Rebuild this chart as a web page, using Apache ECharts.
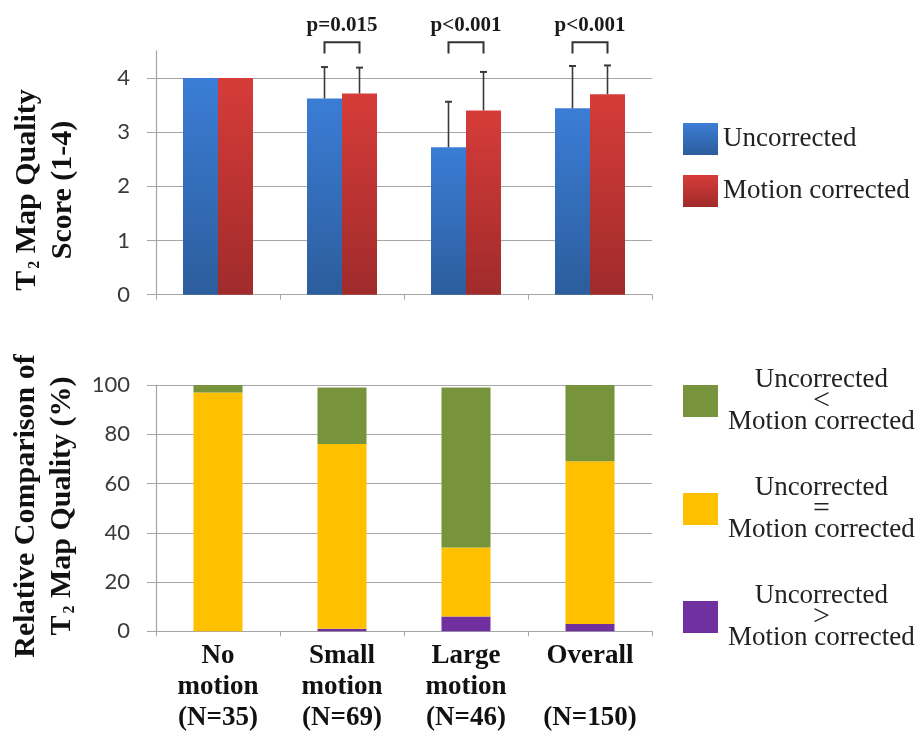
<!DOCTYPE html>
<html>
<head>
<meta charset="utf-8">
<script src="https://cdn.jsdelivr.net/npm/echarts@6/dist/echarts.min.js"></script>
<style>
  html, body { margin: 0; padding: 0; background: #ffffff; }
  #chart { width: 922px; height: 742px; }
</style>
</head>
<body>
<div id="chart"></div>
<script>
// Motion groups and their sample sizes
const groupNames = ['No\nmotion', 'Small\nmotion', 'Large\nmotion', 'Overall\n'];
const sampleSizes = [35, 69, 46, 150];

// Mean T2 map quality score (1-4) and standard deviation
const uncorrectedScore = [4.0, 3.62, 2.72, 3.44];
const uncorrectedSD = [0, 0.58, 0.84, 0.78];
const correctedScore = [4.0, 3.71, 3.40, 3.70];
const correctedSD = [0, 0.48, 0.71, 0.53];

// Paired-test p values drawn above each group
const pLabels = ['', 'p=0.015', 'p<0.001', 'p<0.001'];

// Relative comparison of map quality (% of cases)
const pctWorse = [0, 1, 6, 3];       // Uncorrected > Motion corrected
const pctEqual = [97, 75, 28, 66];   // Uncorrected = Motion corrected
const pctBetter = [3, 23, 65, 31];   // Uncorrected < Motion corrected

// Score axis ticks
const scoreTicks = [0, 1, 2, 3, 4];

const categories = groupNames.map((g, i) => g + '\n(N=' + sampleSizes[i] + ')');

const SERIF = '"Liberation Serif", "Times New Roman", serif';
const SANS = 'Lato, "Open Sans", sans-serif';
const GRID_COLOR = '#a6a6a6';
const BAR_W = 35;

const blueFill = new echarts.graphic.LinearGradient(0, 0, 0, 1, [
  { offset: 0, color: '#3b7dd6' }, { offset: 1, color: '#2c5d9c' }
]);
const redFill = new echarts.graphic.LinearGradient(0, 0, 0, 1, [
  { offset: 0, color: '#d63c39' }, { offset: 1, color: '#a02b2b' }
]);

const chart = echarts.init(document.getElementById('chart'), null, { renderer: 'canvas' });

// Error bar (upper half only) at the centre of one bar of a pair
function errorBarRenderer(offset) {
  return function (params, api) {
    const i = api.value(0), v = api.value(1), sd = api.value(2);
    if (!sd) return null;
    const base = api.coord([i, v]);
    const top = api.coord([i, v + sd]);
    const x = base[0] + offset;
    const style = { stroke: '#3a3a3a', lineWidth: 1.6 };
    return {
      type: 'group',
      children: [
        { type: 'line', shape: { x1: x, y1: base[1], x2: x, y2: top[1] }, style },
        { type: 'line', shape: { x1: x - 3.5, y1: top[1], x2: x + 3.5, y2: top[1] }, style: { stroke: '#3a3a3a', lineWidth: 2 } }
      ]
    };
  };
}

// Significance bracket with its p value, spanning the two bars of a group
const BRACKET_LOW = 4.45, BRACKET_HIGH = 4.66, P_TEXT_AT = 4.97;
function bracketRenderer(params, api) {
  const i = api.value(0);
  const label = pLabels[i];
  if (!label) return null;
  const lowL = api.coord([i, BRACKET_LOW]);
  const high = api.coord([i, BRACKET_HIGH]);
  const text = api.coord([i, P_TEXT_AT]);
  const xl = lowL[0] - BAR_W / 2, xr = lowL[0] + BAR_W / 2;
  return {
    type: 'group',
    children: [
      {
        type: 'polyline',
        shape: { points: [[xl, lowL[1]], [xl, high[1]], [xr, high[1]], [xr, lowL[1]]] },
        style: { stroke: '#333333', lineWidth: 2, fill: null }
      },
      {
        type: 'text',
        x: text[0], y: text[1],
        style: { text: label, font: 'bold 21px ' + SERIF, fill: '#1a1a1a', align: 'center', verticalAlign: 'middle' }
      }
    ]
  };
}

const titleRich = {
  b: { font: 'bold 30px ' + SERIF, fill: '#111111', lineHeight: 36, verticalAlign: 'middle' },
  s: { font: 'bold 16px ' + SERIF, fill: '#111111', lineHeight: 36, verticalAlign: 'middle', padding: [16, 0, 0, 2] }
};

const legendRich = {
  word: { fontFamily: SERIF, fontSize: 27, color: '#222222', lineHeight: 21, align: 'center', padding: [0, 0, 0, 5] },
  rel: { fontFamily: SERIF, fontSize: 30, color: '#222222', lineHeight: 21, align: 'center', padding: [0, 0, 0, 5] }
};
const relSymbol = { 'Uncorrected < Motion corrected': '<', 'Uncorrected = Motion corrected': '=', 'Uncorrected > Motion corrected': '>' };

const option = {
  backgroundColor: '#ffffff',
  animation: false,
  grid: [
    { left: 156, width: 496, top: 50.8, height: 243.9 },
    { left: 156, width: 496, top: 385, height: 246.3 }
  ],
  xAxis: [
    {
      type: 'category', gridIndex: 0, data: categories,
      axisLine: { lineStyle: { color: GRID_COLOR, width: 1.2 } },
      axisTick: { show: true, length: 5, lineStyle: { color: GRID_COLOR } },
      axisLabel: { show: false }
    },
    {
      type: 'category', gridIndex: 1, data: categories,
      axisLine: { lineStyle: { color: GRID_COLOR, width: 1.2 } },
      axisTick: { show: true, length: 5, lineStyle: { color: GRID_COLOR } },
      axisLabel: {
        margin: 9,
        fontFamily: SERIF, fontWeight: 'bold', fontSize: 27, lineHeight: 31, color: '#111111'
      }
    }
  ],
  yAxis: [
    {
      type: 'value', gridIndex: 0, min: 0, max: 4.5, interval: 1,
      axisLine: { show: true, lineStyle: { color: GRID_COLOR, width: 1.2 } },
      axisTick: { show: true, length: 9, customValues: scoreTicks, lineStyle: { color: GRID_COLOR } },
      axisLabel: { customValues: scoreTicks, margin: 26, fontFamily: SANS, fontSize: 22, color: '#3a3a3a' },
      splitLine: { show: true, lineStyle: { color: [GRID_COLOR, GRID_COLOR, GRID_COLOR, GRID_COLOR, GRID_COLOR, 'rgba(0,0,0,0)'], width: 1.2 } }
    },
    {
      type: 'value', gridIndex: 1, min: 0, max: 100, interval: 20,
      axisLine: { show: true, lineStyle: { color: GRID_COLOR, width: 1.2 } },
      axisTick: { show: true, length: 9, lineStyle: { color: GRID_COLOR } },
      axisLabel: { margin: 26, fontFamily: SANS, fontSize: 22, color: '#3a3a3a' },
      splitLine: { show: true, lineStyle: { color: GRID_COLOR, width: 1.2 } }
    }
  ],
  legend: [
    {
      data: ['Uncorrected', 'Motion corrected'],
      orient: 'vertical', left: 683, top: 123, padding: 0,
      itemWidth: 35, itemHeight: 32, itemGap: 20,
      icon: 'rect',
      textStyle: { fontFamily: SERIF, fontSize: 27, color: '#222222' }
    },
    {
      data: ['Uncorrected < Motion corrected', 'Uncorrected = Motion corrected', 'Uncorrected > Motion corrected'],
      orient: 'vertical', left: 683, top: 366.5, padding: 0,
      itemWidth: 35, itemHeight: 32, itemGap: 39,
      icon: 'rect',
      formatter: name => '{word|Uncorrected}\n{rel|' + relSymbol[name] + '}\n{word|Motion corrected}',
      textStyle: { fontFamily: SERIF, fontSize: 27, color: '#222222', rich: legendRich }
    }
  ],
  graphic: [
    {
      type: 'text', x: 45, y: 190, rotation: Math.PI / 2,
      style: {
        text: '{b|T}{s|2}{b| Map Quality}\n{b|Score (1-4)}',
        rich: titleRich, align: 'center', verticalAlign: 'middle'
      }
    },
    {
      type: 'text', x: 44, y: 506, rotation: Math.PI / 2,
      style: {
        text: '{b|Relative Comparison of}\n{b|T}{s|2}{b| Map Quality (%)}',
        rich: titleRich, align: 'center', verticalAlign: 'middle'
      }
    }
  ],
  series: [
    {
      name: 'Uncorrected', type: 'bar', xAxisIndex: 0, yAxisIndex: 0,
      data: uncorrectedScore, barWidth: BAR_W, barGap: '0%',
      itemStyle: { color: blueFill }
    },
    {
      name: 'Motion corrected', type: 'bar', xAxisIndex: 0, yAxisIndex: 0,
      data: correctedScore, barWidth: BAR_W, barGap: '0%',
      itemStyle: { color: redFill }
    },
    {
      type: 'custom', xAxisIndex: 0, yAxisIndex: 0, clip: false, z: 5,
      data: uncorrectedScore.map((v, i) => [i, v, uncorrectedSD[i]]),
      renderItem: errorBarRenderer(-BAR_W / 2)
    },
    {
      type: 'custom', xAxisIndex: 0, yAxisIndex: 0, clip: false, z: 5,
      data: correctedScore.map((v, i) => [i, v, correctedSD[i]]),
      renderItem: errorBarRenderer(BAR_W / 2)
    },
    {
      type: 'custom', xAxisIndex: 0, yAxisIndex: 0, clip: false, z: 5,
      data: pLabels.map((p, i) => [i]),
      renderItem: bracketRenderer
    },
    {
      name: 'Uncorrected > Motion corrected', type: 'bar', stack: 'rel',
      xAxisIndex: 1, yAxisIndex: 1, data: pctWorse, barWidth: 49,
      itemStyle: { color: '#7030a0' }
    },
    {
      name: 'Uncorrected = Motion corrected', type: 'bar', stack: 'rel',
      xAxisIndex: 1, yAxisIndex: 1, data: pctEqual, barWidth: 49,
      itemStyle: { color: '#ffc000' }
    },
    {
      name: 'Uncorrected < Motion corrected', type: 'bar', stack: 'rel',
      xAxisIndex: 1, yAxisIndex: 1, data: pctBetter, barWidth: 49,
      itemStyle: { color: '#77933c' }
    }
  ]
};

chart.setOption(option);
</script>
</body>
</html>
